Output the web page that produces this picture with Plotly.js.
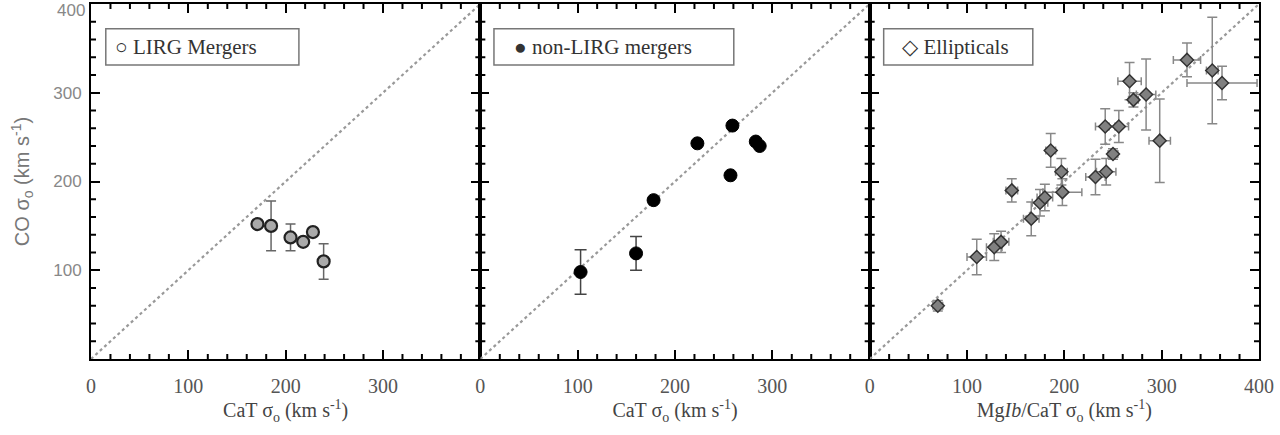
<!DOCTYPE html>
<html><head><meta charset="utf-8">
<script src="https://cdn.plot.ly/plotly-3.0.1.min.js"></script>
<style>html,body{margin:0;padding:0;background:#fff}#chart{width:1280px;height:435px}</style>
</head><body><div id="chart"></div>
<script>
// Panel 1: LIRG mergers
const lirgX = [171, 185, 205, 218, 228, 239];
const lirgY = [152, 150, 137, 132, 143, 110];
const lirgYErr = [0, 28, 15, 0, 0, 20];
// Panel 2: non-LIRG mergers
const nonX = [103, 160, 178, 223, 259, 257, 283, 287];
const nonY = [98, 119, 179, 243, 263, 207, 245, 240];
const nonYErr = [25, 19, 0, 0, 0, 0, 0, 0];
// Panel 3: ellipticals
const ellX = [70, 110, 128, 135, 146, 166, 175, 180, 186, 197, 198, 232, 243, 250, 242, 256, 267, 271, 284, 298, 326, 352, 362];
const ellY = [60, 115, 126, 132, 190, 158, 176, 182, 235, 211, 188, 205, 211, 231, 262, 262, 313, 292, 298, 246, 337, 325, 311];
const ellXErr = [5, 10, 8, 8, 6, 8, 8, 8, 5, 6, 20, 10, 10, 5, 10, 10, 12, 5, 10, 11, 14, 6, 36];
const ellYErr = [6, 20, 15, 12, 13, 19, 15, 15, 19, 15, 15, 20, 15, 6, 20, 18, 21, 8, 40, 47, 19, 60, 19];
// one-to-one line
const oneToOne = [0, 400];
const legendSymbols = ['\u25CB', '\u25CF', '\u25C7'];
const legendLabels = ['LIRG Mergers', 'non-LIRG mergers', 'Ellipticals'];
const xTickVals = [[0,100,200,300], [0,100,200,300], [0,100,200,300,400]];
const yTickVals = [100, 200, 300];
const xTitles = ['CaT \u03C3<sub>o</sub> (km s<sup>-1</sup>)', 'CaT \u03C3<sub>o</sub> (km s<sup>-1</sup>)', 'Mg<i>Ib</i>/CaT \u03C3<sub>o</sub> (km s<sup>-1</sup>)'];
const yTitle = 'CO \u03C3<sub>o</sub> (km s<sup>-1</sup>)';

const serif = 'Liberation Serif, DejaVu Serif, serif';
const sans = 'Liberation Sans, Arial, sans-serif';
const dotLine = {color: '#999', width: 2.2, dash: 'dot'};

const xa = ['x','x2','x3'], ya = ['y','y2','y3'];
const traces = [];
for (let i = 0; i < 3; i++) {
  traces.push({x: oneToOne, y: oneToOne, xaxis: xa[i], yaxis: ya[i], mode: 'lines', line: dotLine, hoverinfo: 'skip'});
}
traces.push({x: lirgX, y: lirgY, xaxis: 'x', yaxis: 'y', mode: 'markers',
  error_y: {type: 'data', array: lirgYErr, color: '#666', thickness: 1.5, width: 5},
  marker: {symbol: 'circle', size: 12, color: '#aaa', line: {color: '#222', width: 2.2}}});
traces.push({x: nonX, y: nonY, xaxis: 'x2', yaxis: 'y2', mode: 'markers',
  error_y: {type: 'data', array: nonYErr, color: '#444', thickness: 1.5, width: 6},
  marker: {symbol: 'circle', size: 13, color: '#000', line: {color: '#000', width: 1}}});
traces.push({x: ellX, y: ellY, xaxis: 'x3', yaxis: 'y3', mode: 'markers',
  error_x: {type: 'data', array: ellXErr, color: '#888', thickness: 1.5, width: 4},
  error_y: {type: 'data', array: ellYErr, color: '#888', thickness: 1.5, width: 5},
  marker: {symbol: 'diamond', size: 10, color: '#808080', line: {color: '#333', width: 1.5}}});

const doms = [[0, 1/3], [1/3, 2/3], [2/3, 1]];
function common() {
  return {range: [0, 400], ticks: 'inside', ticklen: 9, tickwidth: 2, tickcolor: '#000', mirror: 'ticks',
    showline: true, linecolor: '#000', linewidth: 2, showgrid: false, zeroline: false, fixedrange: true};
}
function xaxis(i) {
  return Object.assign(common(), {domain: doms[i], tickmode: 'array', tickvals: xTickVals[i], anchor: ya[i],
    ticklabelstandoff: 8,
    tickfont: {family: serif, size: 20, color: '#555'},
    title: {text: xTitles[i], font: {family: serif, size: 20, color: '#444'}, standoff: 5}});
}
function yaxis(i) {
  return Object.assign(common(), {domain: [0, 1], tickmode: 'array', tickvals: yTickVals, showticklabels: i === 0,
    anchor: xa[i], ticklabelstandoff: 4,
    tickfont: {family: sans, size: 17, color: '#888'},
    title: i === 0 ? {text: yTitle, font: {family: sans, size: 20, color: '#777'}, standoff: 18} : undefined});
}
// minor tick marks (frame decoration) every 20 units on all four sides, drawn as short lines
const shapes = [];
const pxW = 1168 / 3, pxH = 355, tl = 5;
for (let i = 0; i < 3; i++) {
  for (let v = 20; v < 400; v += 20) {
    if (v % 100 === 0) continue;
    const ln = {color: '#000', width: 2};
    const dy = tl / pxH, dx = tl / pxW;
    shapes.push({type: 'line', xref: xa[i], yref: ya[i] + ' domain', x0: v, x1: v, y0: 0, y1: dy, line: ln});
    shapes.push({type: 'line', xref: xa[i], yref: ya[i] + ' domain', x0: v, x1: v, y0: 1, y1: 1 - dy, line: ln});
    shapes.push({type: 'line', xref: xa[i] + ' domain', yref: ya[i], x0: 0, x1: dx, y0: v, y1: v, line: ln});
    shapes.push({type: 'line', xref: xa[i] + ' domain', yref: ya[i], x0: 1, x1: 1 - dx, y0: v, y1: v, line: ln});
  }
}
const legBox = [[0.038, 0.534], [0.035, 0.651], [0.036, 0.419]];
const legText = [0.057, 0.082, 0.078];
legBox.forEach((b, i) => shapes.push({type: 'rect', xref: xa[i] + ' domain', yref: 'y domain',
  x0: b[0], x1: b[1], y0: 0.828, y1: 0.930, line: {color: '#777', width: 1.5}, fillcolor: '#fff', layer: 'below'}));
const annotations = legendLabels.map((t, i) => ({
  text: legendSymbols[i] + ' ' + t, xref: xa[i] + ' domain', yref: 'y domain', x: legText[i], y: 0.879,
  xanchor: 'left', yanchor: 'middle', showarrow: false, font: {family: serif, size: 21, color: '#333'}
}));
annotations.push({text: '400', xref: 'paper', yref: 'y', x: 0, y: 400, xanchor: 'right', yanchor: 'top',
  xshift: -4, yshift: 5, showarrow: false, font: {family: sans, size: 17, color: '#888'}});
const layout = {
  width: 1280, height: 435, showlegend: false, paper_bgcolor: '#fff', plot_bgcolor: 'rgba(0,0,0,0)',
  margin: {l: 91, r: 21, t: 4, b: 76},
  xaxis: xaxis(0), xaxis2: xaxis(1), xaxis3: xaxis(2),
  yaxis: yaxis(0), yaxis2: yaxis(1), yaxis3: yaxis(2),
  shapes: shapes, annotations: annotations
};
Plotly.newPlot('chart', traces, layout, {displayModeBar: false, staticPlot: true});
</script></body></html>
